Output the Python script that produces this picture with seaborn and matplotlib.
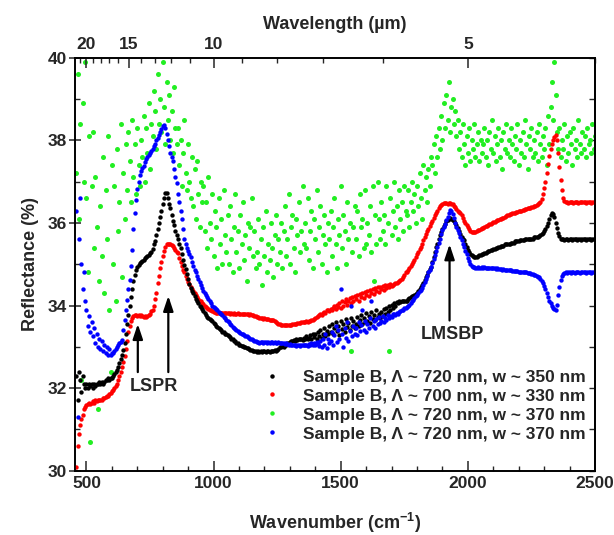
import numpy as np
import matplotlib
matplotlib.use("Agg")
import matplotlib.pyplot as plt
from matplotlib.lines import Line2D
from matplotlib.ticker import MultipleLocator, FixedLocator, NullFormatter
import seaborn as sns

# ---------------- data ----------------
wavenumber = np.arange(460, 2501, 5)  # cm^-1 sampling grid

labels = ["Sample B, \u039b ~ 720 nm, w ~ 350 nm",
          "Sample B, \u039b ~ 700 nm, w ~ 330 nm",
          "Sample B, \u039b ~ 720 nm, w ~ 370 nm",
          "Sample B, \u039b ~ 720 nm, w ~ 370 nm"]
colors = ["#000000", "#ff0000", "#22ee22", "#0000ff"]

black = [
 32.3, 31.7, 32.4, 32.2, 31.9, 32.3, 32.1, 32.0, 32.1, 32.0, 32.1, 32.05, 32.1, 32.0, 32.1, 32.05, 32.1, 32.1, 32.15, 32.1,
 32.15, 32.1, 32.15, 32.2, 32.2, 32.25, 32.2, 32.25, 32.25, 32.3, 32.35, 32.4, 32.45, 32.52, 32.6, 32.7, 32.8, 32.92, 33.1, 33.32,
 33.55, 33.78, 34.0, 34.2, 34.4, 34.6, 34.75, 34.85, 34.94, 34.98, 35.02, 35.05, 35.08, 35.1, 35.15, 35.18, 35.2, 35.22, 35.26, 35.3,
 35.38, 35.48, 35.57, 35.7, 35.85, 36.0, 36.15, 36.3, 36.45, 36.6, 36.72, 36.72, 36.6, 36.45, 36.35, 36.2, 36.05, 35.95, 35.8, 35.7,
 35.6, 35.5, 35.4, 35.25, 35.1, 34.98, 34.88, 34.76, 34.65, 34.52, 34.42, 34.35, 34.3, 34.22, 34.15, 34.1, 34.05, 34.0, 33.96, 33.92,
 33.86, 33.82, 33.77, 33.73, 33.7, 33.67, 33.65, 33.62, 33.58, 33.55, 33.5, 33.48, 33.45, 33.42, 33.4, 33.37, 33.35, 33.32, 33.3, 33.28,
 33.25, 33.23, 33.2, 33.18, 33.15, 33.13, 33.1, 33.08, 33.05, 33.05, 33.03, 33.02, 33.0, 33.0, 32.98, 32.96, 32.95, 32.93, 32.92, 32.9,
 32.9, 32.9, 32.88, 32.9, 32.88, 32.9, 32.88, 32.9, 32.9, 32.88, 32.9, 32.9, 32.88, 32.9, 32.9, 32.9, 32.92, 32.9, 32.92, 32.95,
 33.0, 33.0, 33.02, 33.0, 33.05, 33.05, 33.08, 33.1, 33.12, 33.15, 33.15, 33.16, 33.15, 33.18, 33.16, 33.2, 33.18, 33.2, 33.16, 33.22,
 33.2, 33.25, 33.18, 33.22, 33.28, 33.2, 33.3, 33.24, 33.32, 33.18, 33.35, 33.26, 33.4, 33.22, 33.3, 33.45, 33.25, 33.38, 33.3, 33.5,
 33.35, 33.55, 33.3, 33.45, 33.6, 33.38, 33.5, 33.28, 33.62, 33.42, 33.55, 33.35, 33.68, 33.48, 33.58, 33.4, 33.7, 33.5, 33.62, 33.45,
 33.55, 33.72, 33.5, 33.65, 33.78, 33.55, 33.7, 33.6, 33.82, 33.62, 33.75, 33.58, 33.85, 33.68, 33.78, 33.65, 33.88, 33.72, 33.8, 33.7,
 33.85, 33.75, 33.92, 33.8, 33.95, 33.85, 34.0, 33.9, 34.02, 33.95, 34.05, 34.0, 34.08, 34.05, 34.1, 34.08, 34.12, 34.1, 34.12, 34.12,
 34.12, 34.15, 34.18, 34.2, 34.22, 34.22, 34.25, 34.28, 34.3, 34.35, 34.4, 34.45, 34.5, 34.55, 34.62, 34.68, 34.75, 34.82, 34.88, 34.94,
 35.05, 35.18, 35.3, 35.42, 35.5, 35.6, 35.7, 35.78, 35.85, 35.92, 35.98, 36.04, 36.08, 36.12, 36.12, 36.1, 36.08, 36.04, 36.0, 35.95,
 35.88, 35.8, 35.72, 35.66, 35.6, 35.58, 35.5, 35.42, 35.35, 35.3, 35.25, 35.22, 35.2, 35.18, 35.18, 35.18, 35.2, 35.22, 35.22, 35.25,
 35.25, 35.28, 35.28, 35.3, 35.32, 35.32, 35.35, 35.35, 35.38, 35.38, 35.4, 35.4, 35.42, 35.42, 35.45, 35.45, 35.45, 35.48, 35.48, 35.5,
 35.5, 35.5, 35.52, 35.52, 35.52, 35.55, 35.55, 35.55, 35.55, 35.58, 35.58, 35.58, 35.58, 35.6, 35.6, 35.6, 35.6, 35.62, 35.62, 35.62,
 35.65, 35.65, 35.67, 35.67, 35.68, 35.7, 35.72, 35.75, 35.8, 35.85, 35.92, 36.0, 36.1, 36.2, 36.25, 36.22, 36.15, 36.0, 35.88, 35.75,
 35.68, 35.62, 35.6, 35.6, 35.58, 35.6, 35.6, 35.58, 35.6, 35.6, 35.58, 35.6, 35.6, 35.6, 35.58, 35.6, 35.6, 35.58, 35.6, 35.6,
 35.6, 35.58, 35.6, 35.6, 35.6, 35.58, 35.6, 35.6, 35.6]

red = [
 30.1, 30.6, 30.9, 31.1, 31.25, 31.35, 31.5, 31.55, 31.6, 31.62, 31.65, 31.62, 31.65, 31.68, 31.65, 31.7, 31.68, 31.7, 31.7, 31.72,
 31.72, 31.75, 31.75, 31.78, 31.8, 31.82, 31.85, 31.88, 31.92, 31.96, 32.0, 32.05, 32.1, 32.2, 32.3, 32.4, 32.5, 32.62, 32.78, 32.95,
 33.15, 33.35, 33.5, 33.62, 33.7, 33.75, 33.76, 33.76, 33.75, 33.76, 33.74, 33.76, 33.74, 33.72, 33.74, 33.72, 33.74, 33.76, 33.8, 33.86,
 33.9, 34.0, 34.15, 34.3, 34.55, 34.72, 34.9, 35.05, 35.2, 35.32, 35.42, 35.48, 35.5, 35.5, 35.48, 35.46, 35.44, 35.4, 35.35, 35.3,
 35.26, 35.15, 35.05, 34.95, 34.87, 34.8, 34.72, 34.65, 34.58, 34.52, 34.46, 34.4, 34.35, 34.3, 34.25, 34.2, 34.16, 34.12, 34.1, 34.07,
 34.04, 34.0, 33.97, 33.94, 33.92, 33.9, 33.88, 33.86, 33.85, 33.84, 33.83, 33.82, 33.82, 33.81, 33.82, 33.81, 33.81, 33.82, 33.81, 33.81,
 33.81, 33.8, 33.81, 33.8, 33.81, 33.8, 33.8, 33.81, 33.8, 33.8, 33.79, 33.8, 33.8, 33.79, 33.8, 33.79, 33.78, 33.8, 33.78, 33.76,
 33.75, 33.74, 33.72, 33.72, 33.7, 33.7, 33.7, 33.68, 33.7, 33.68, 33.67, 33.68, 33.66, 33.66, 33.65, 33.64, 33.62, 33.6, 33.58, 33.56,
 33.54, 33.53, 33.53, 33.52, 33.53, 33.52, 33.53, 33.52, 33.53, 33.53, 33.54, 33.55, 33.55, 33.56, 33.57, 33.58, 33.58, 33.6, 33.6, 33.6,
 33.6, 33.62, 33.6, 33.63, 33.62, 33.64, 33.65, 33.68, 33.7, 33.72, 33.74, 33.77, 33.8, 33.78, 33.83, 33.85, 33.82, 33.88, 33.9, 33.87,
 33.92, 33.88, 33.95, 34.0, 33.92, 34.02, 33.97, 34.05, 33.95, 34.1, 34.0, 34.08, 34.15, 34.02, 34.12, 34.18, 34.05, 34.2, 34.1, 34.22,
 34.15, 34.25, 34.12, 34.28, 34.2, 34.3, 34.18, 34.32, 34.25, 34.35, 34.22, 34.38, 34.3, 34.4, 34.28, 34.42, 34.35, 34.45, 34.33, 34.45,
 34.4, 34.48, 34.38, 34.5, 34.42, 34.5, 34.45, 34.52, 34.48, 34.5, 34.52, 34.55, 34.55, 34.58, 34.6, 34.62, 34.65, 34.7, 34.75, 34.8,
 34.82, 34.86, 34.9, 34.95, 35.0, 35.05, 35.1, 35.18, 35.25, 35.3, 35.36, 35.42, 35.5, 35.58, 35.65, 35.72, 35.8, 35.86, 35.92, 35.99,
 36.05, 36.12, 36.18, 36.24, 36.3, 36.35, 36.4, 36.43, 36.46, 36.47, 36.47, 36.47, 36.46, 36.47, 36.47, 36.46, 36.45, 36.42, 36.38, 36.33,
 36.3, 36.26, 36.23, 36.18, 36.12, 36.05, 35.99, 35.94, 35.9, 35.85, 35.8, 35.79, 35.78, 35.78, 35.79, 35.8, 35.82, 35.84, 35.85, 35.87,
 35.88, 35.9, 35.92, 35.93, 35.95, 35.97, 35.98, 36.0, 36.02, 36.03, 36.05, 36.06, 36.08, 36.09, 36.1, 36.12, 36.13, 36.15, 36.16, 36.18,
 36.2, 36.21, 36.22, 36.23, 36.24, 36.25, 36.26, 36.27, 36.28, 36.29, 36.3, 36.31, 36.32, 36.33, 36.34, 36.35, 36.36, 36.37, 36.38, 36.39,
 36.4, 36.42, 36.43, 36.45, 36.47, 36.5, 36.58, 36.7, 36.85, 37.0, 37.2, 37.42, 37.62, 37.78, 37.9, 38.0, 38.08, 38.13, 38.0, 37.7,
 37.35, 37.05, 36.8, 36.6, 36.52, 36.5, 36.5, 36.48, 36.5, 36.5, 36.5, 36.48, 36.5, 36.5, 36.5, 36.48, 36.5, 36.5, 36.5, 36.5,
 36.5, 36.48, 36.5, 36.5, 36.5, 36.48, 36.5, 36.5, 36.5]

green = [
 37.2, 39.6, 36.1, 38.4, 32.2, 38.9, 37.0, 39.9, 36.6, 34.8, 38.1, 30.7, 36.9, 38.2, 35.4, 37.1, 35.9, 31.5, 34.6, 36.4,
 35.2, 37.6, 34.3, 36.8, 35.6, 38.1, 33.9, 32.4, 37.4, 35.0, 36.9, 34.1, 37.8, 35.8, 36.5, 38.4, 34.7, 37.2, 36.1, 37.9,
 36.8, 38.2, 37.5, 36.5, 38.5, 37.1, 37.9, 36.7, 38.3, 37.4, 36.9, 38.0, 37.6, 38.6, 37.0, 38.3, 37.7, 38.9, 37.3, 38.4,
 38.1, 39.2, 38.7, 37.8, 39.6, 38.4, 39.0, 38.2, 39.9, 38.8, 37.9, 39.4, 38.5, 39.1, 38.0, 38.7, 37.7, 39.3, 38.3, 37.9,
 38.3, 37.4, 38.0, 36.9, 37.7, 38.5, 37.2, 36.8, 37.9, 37.0, 36.6, 37.6, 36.4, 37.3, 36.1, 37.5, 36.7, 35.9, 37.0, 36.5,
 36.9, 35.8, 36.5, 35.4, 37.1, 36.0, 35.6, 36.7, 35.2, 36.3, 35.9, 34.9, 36.6, 35.5, 36.1, 35.0, 36.8, 35.7, 35.3, 36.2,
 35.0, 36.4, 35.6, 34.8, 35.9, 36.7, 35.3, 35.8, 34.9, 36.2, 35.5, 36.5, 35.1, 35.7, 34.6, 36.0, 35.4, 35.9, 36.6, 35.2,
 35.8, 34.9, 35.3, 36.1, 35.0, 35.6, 34.5, 35.9, 35.2, 36.3, 34.8, 35.5, 35.1, 36.0, 35.4, 34.7, 35.7, 36.2, 35.0, 35.6,
 35.3, 36.0, 34.9, 35.8, 36.4, 35.2, 35.6, 36.7, 35.0, 35.9, 36.2, 35.4, 34.8, 36.1, 35.7, 36.5, 35.3, 35.8, 36.9, 35.5,
 36.0, 35.4, 36.6, 35.1, 35.8, 36.3, 34.9, 36.1, 35.6, 36.8, 35.3, 35.9, 36.4, 35.0, 35.7, 36.2, 35.5, 34.8, 36.0, 35.6,
 36.3, 35.2, 35.9, 36.6, 35.5, 34.9, 36.1, 35.7, 36.9, 35.4, 36.2, 35.8, 35.0, 36.5, 35.6, 36.0, 32.9, 35.3, 35.9, 36.4,
 35.6, 36.3, 35.2, 36.7, 35.9, 36.1, 35.4, 36.8, 35.5, 36.0, 35.7, 36.4, 35.3, 36.9, 34.6, 36.2, 35.5, 37.0, 36.1, 35.6,
 36.5, 35.8, 36.2, 35.5, 36.9, 36.0, 32.9, 36.6, 35.7, 36.3, 37.0, 35.9, 36.4, 35.6, 36.8, 36.1, 36.5, 35.8, 36.9, 36.3,
 36.2, 36.8, 35.9, 36.5, 37.0, 36.3, 36.7, 36.0, 36.9, 36.4, 37.2, 36.6, 36.1, 37.4, 36.8, 37.1, 36.5, 37.3, 36.9, 37.6,
 37.4, 37.9, 37.2, 38.1, 37.6, 38.3, 37.8, 38.6, 38.0, 38.9, 38.3, 39.1, 38.5, 39.4, 38.2, 38.8, 39.0, 38.4, 38.7, 38.1,
 38.5, 37.8, 38.2, 37.6, 38.4, 37.9, 37.4, 38.1, 37.7, 38.3, 37.5, 38.0, 37.8, 38.4, 37.6, 37.9, 38.2, 37.5, 38.0, 37.7,
 37.9, 38.3, 37.6, 38.0, 37.4, 38.2, 37.8, 38.5, 37.7, 38.1, 37.5, 37.9, 38.3, 37.6, 38.0, 37.3, 38.2, 37.8, 38.4, 37.7,
 38.0, 37.6, 38.3, 37.9, 37.5, 38.1, 37.8, 38.4, 37.4, 38.0, 37.7, 38.2, 37.6, 38.5, 37.9, 37.3, 38.1, 37.8, 38.3, 37.6,
 38.0, 37.7, 38.2, 37.5, 38.4, 37.9, 37.6, 38.1, 37.8, 38.3, 37.4, 38.6, 37.9, 38.8, 39.4, 38.5, 39.9, 39.1, 38.2, 37.8,
 38.3, 37.6, 38.0, 37.8, 38.4, 37.5, 38.1, 37.7, 38.2, 37.9, 37.4, 38.3, 37.8, 38.0, 37.6, 38.5, 37.9, 37.7, 38.2, 37.8,
 38.1, 37.6, 38.3, 37.9, 38.0, 37.7, 38.4, 37.8, 38.1]

blue = [
 36.3, 31.3, 35.6, 36.6, 35.0, 34.4, 34.8, 34.1, 33.9, 33.5, 33.75, 33.35, 33.6, 33.25, 33.45, 33.1, 33.3, 33.0, 33.2, 32.95,
 33.15, 32.9, 33.05, 32.85, 33.0, 32.8, 32.95, 32.8, 32.85, 32.85, 32.9, 32.95, 33.0, 33.05, 33.1, 33.12, 33.16, 33.4, 33.65, 33.9,
 34.13, 34.4, 34.62, 34.95, 35.34, 35.85, 36.25, 36.55, 36.82, 37.0, 37.15, 37.25, 37.32, 37.38, 37.48, 37.55, 37.6, 37.65, 37.7, 37.74,
 37.78, 37.85, 37.92, 38.0, 38.05, 38.12, 38.2, 38.28, 38.34, 38.37, 38.3, 38.15, 38.0, 37.85, 37.7, 37.6, 37.5, 37.3, 37.12, 36.96,
 36.7, 36.5, 36.3, 36.1, 35.85, 35.6, 35.48, 35.4, 35.32, 35.25, 35.17, 35.06, 34.95, 34.87, 34.8, 34.72, 34.65, 34.58, 34.5, 34.42,
 34.36, 34.3, 34.25, 34.2, 34.15, 34.1, 34.05, 34.0, 33.97, 33.94, 33.91, 33.88, 33.85, 33.82, 33.79, 33.76, 33.73, 33.7, 33.66, 33.63,
 33.6, 33.56, 33.52, 33.48, 33.45, 33.43, 33.4, 33.38, 33.36, 33.34, 33.32, 33.3, 33.29, 33.27, 33.25, 33.24, 33.22, 33.2, 33.18, 33.16,
 33.14, 33.13, 33.12, 33.12, 33.1, 33.12, 33.12, 33.1, 33.12, 33.12, 33.1, 33.12, 33.1, 33.12, 33.12, 33.1, 33.12, 33.1, 33.1, 33.12,
 33.1, 33.08, 33.1, 33.08, 33.06, 33.08, 33.06, 33.05, 33.06, 33.04, 33.05, 33.04, 33.04, 33.03, 33.05, 33.04, 33.03, 33.04, 33.05, 33.04,
 33.04, 33.05, 33.03, 33.06, 33.04, 33.08, 33.05, 33.1, 33.04, 33.12, 33.06, 33.02, 33.15, 33.0, 33.2, 33.05, 33.3, 32.98, 33.18, 33.1,
 33.15, 33.35, 33.05, 33.28, 33.5, 33.12, 33.4, 33.2, 34.4, 33.3, 33.0, 33.45, 33.22, 33.6, 33.15, 33.38, 34.0, 33.25, 33.5, 33.32,
 33.45, 33.28, 33.6, 33.38, 33.52, 33.9, 33.4, 33.62, 33.35, 33.55, 33.45, 33.7, 34.1, 33.5, 33.62, 33.45, 33.68, 33.55, 33.72, 33.58,
 33.62, 33.75, 33.6, 33.7, 33.66, 33.78, 33.7, 33.75, 33.72, 33.8, 33.8, 33.78, 33.82, 33.8, 33.85, 33.86, 33.88, 33.9, 33.93, 33.95,
 33.96, 33.98, 34.02, 34.06, 34.1, 34.14, 34.18, 34.22, 34.26, 34.3, 34.34, 34.38, 34.43, 34.5, 34.57, 34.64, 34.72, 34.8, 34.87, 34.94,
 35.03, 35.12, 35.22, 35.32, 35.42, 35.52, 35.62, 35.72, 35.82, 35.9, 35.98, 36.06, 36.15, 36.25, 36.32, 36.3, 36.22, 36.12, 36.0, 35.9,
 35.82, 35.75, 35.66, 35.58, 35.5, 35.42, 35.32, 35.24, 35.16, 35.08, 35.0, 34.96, 34.94, 34.93, 34.92, 34.92, 34.93, 34.92, 34.92, 34.93,
 34.92, 34.93, 34.92, 34.91, 34.92, 34.9, 34.92, 34.9, 34.9, 34.9, 34.89, 34.9, 34.88, 34.88, 34.88, 34.87, 34.88, 34.86, 34.86, 34.86,
 34.86, 34.85, 34.85, 34.84, 34.84, 34.84, 34.83, 34.83, 34.82, 34.82, 34.82, 34.81, 34.8, 34.8, 34.8, 34.79, 34.78, 34.78, 34.77, 34.76,
 34.75, 34.74, 34.72, 34.7, 34.68, 34.65, 34.6, 34.55, 34.48, 34.4, 34.3, 34.2, 34.12, 34.05, 34.0, 33.95, 33.92, 33.9, 34.02, 34.25,
 34.45, 34.62, 34.72, 34.77, 34.78, 34.8, 34.78, 34.8, 34.8, 34.78, 34.8, 34.8, 34.78, 34.8, 34.8, 34.8, 34.78, 34.8, 34.8, 34.8,
 34.8, 34.78, 34.8, 34.8, 34.8, 34.78, 34.8, 34.8, 34.8]

wl_major = [20, 15, 10, 5]
wl_minor = [21, 19, 18, 17, 16, 14, 13, 12, 11, 9, 8, 7, 6, 4]

# ---------------- style ----------------
sns.set_style("ticks")
plt.rcParams['font.family'] = ['Liberation Sans', 'DejaVu Sans']
plt.rcParams['font.weight'] = 'bold'
plt.rcParams['axes.labelweight'] = 'bold'
plt.rcParams['mathtext.fontset'] = 'custom'
plt.rcParams['mathtext.rm'] = 'Liberation Sans:bold'
plt.rcParams['mathtext.bf'] = 'Liberation Sans:bold'
plt.rcParams['mathtext.default'] = 'bf'

fig = plt.figure(figsize=(6.14, 5.35), dpi=100)
ax = fig.add_axes([75 / 614, 1 - 470.7 / 535, 520 / 614, 413 / 535])

series = [black, red, green, blue]
sizes = [10, 10, 13, 10]
draw_order = [2, 1, 0, 3]
for i in draw_order:
    sns.scatterplot(x=wavenumber, y=series[i], color=colors[i], s=sizes[i],
                    linewidth=0, ax=ax, legend=False, zorder=2 + draw_order.index(i))

ax.set_xlim(455, 2500)
ax.set_ylim(30, 40)

ax.xaxis.set_major_locator(MultipleLocator(500))
ax.xaxis.set_minor_locator(MultipleLocator(100))
ax.yaxis.set_major_locator(MultipleLocator(2))
ax.yaxis.set_minor_locator(MultipleLocator(1))
ax.tick_params(axis='x', which='major', direction='in', length=7, width=1.1,
               labelsize=12.5, pad=4, top=False)
ax.tick_params(axis='x', which='minor', direction='in', length=3.5, width=1.0, top=False)
ax.tick_params(axis='y', which='major', direction='inout', length=8, width=1.1,
               labelsize=12.5, pad=2, right=False)
ax.tick_params(axis='y', which='minor', direction='in', length=3.5, width=1.0, right=False)
for lab in ax.get_xticklabels() + ax.get_yticklabels():
    lab.set_fontweight('bold')

# right side ticks (inward, no labels)
axr = ax.secondary_yaxis('right')
axr.yaxis.set_major_locator(MultipleLocator(1))
axr.tick_params(axis='y', which='major', direction='in', length=4, width=1.0,
                labelright=False)

# top wavelength axis
axt = ax.twiny()
axt.set_xlim(ax.get_xlim())
axt.xaxis.set_major_locator(FixedLocator([10000 / w for w in wl_major]))
axt.set_xticklabels([str(w) for w in wl_major], fontweight='bold', fontsize=12.5)
axt.xaxis.set_minor_locator(FixedLocator([10000 / w for w in wl_minor]))
axt.xaxis.set_minor_formatter(NullFormatter())
axt.tick_params(axis='x', which='major', direction='in', length=7, width=1.1, pad=4)
axt.tick_params(axis='x', which='minor', direction='in', length=3.5, width=1.0)
axt.set_xlabel("Wavelength (\u00b5m)", fontsize=13, fontweight='bold', labelpad=6)

for a in (ax, axt):
    for sp in a.spines.values():
        sp.set_linewidth(1.2)
        sp.set_color('black')
axr.spines['right'].set_linewidth(1.2)

ax.set_xlabel("Wavenumber (cm$^{-1}$)", fontsize=13, fontweight='bold', labelpad=14)
ax.set_ylabel("Reflectance (%)", fontsize=13, fontweight='bold', labelpad=6)

# annotations
arrow_kw = dict(arrowstyle='-|>,head_length=0.9,head_width=0.3', color='black', lw=1.6)
ax.annotate('', xy=(702, 33.62), xytext=(702, 32.32), arrowprops=arrow_kw, zorder=10)
ax.annotate('', xy=(822, 34.30), xytext=(822, 32.32), arrowprops=arrow_kw, zorder=10)
ax.text(766, 32.05, 'LSPR', ha='center', va='center', fontsize=13, fontweight='bold')
ax.annotate('', xy=(1928, 35.55), xytext=(1928, 33.57), arrowprops=arrow_kw, zorder=10)
ax.text(1940, 33.29, 'LMSBP', ha='center', va='center', fontsize=13, fontweight='bold')

# legend (order: black, red, green, blue)
handles = [Line2D([], [], marker='o', ls='', color=c, markersize=2.2) for c in colors]
leg = ax.legend(handles, labels, loc='upper left', bbox_to_anchor=(0.345, 0.262),
                frameon=False, fontsize=12.5, handletextpad=1.2, labelspacing=0.22,
                borderaxespad=0, handlelength=1.2)
for t in leg.get_texts():
    t.set_fontweight('bold')

fig.savefig("out.png", dpi=100)
